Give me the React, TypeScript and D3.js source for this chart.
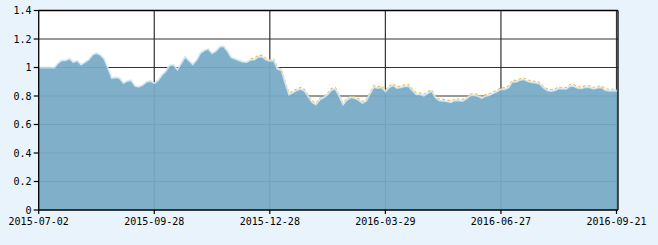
import React from "react";
import * as d3 from "d3";

const tickLabels = ["2015-07-02", "2015-09-28", "2015-12-28", "2016-03-29", "2016-06-27", "2016-09-21"];
const yTicks = [0, 0.2, 0.4, 0.6, 0.8, 1, 1.2, 1.4];

// unit net value, sampled evenly across the trading days
const unitNav = [
  1.0, 1.0, 1.0, 1.0, 0.998, 1.03, 1.05, 1.05, 1.062, 1.037,
  1.048, 1.02, 1.037, 1.055, 1.09, 1.1, 1.088, 1.06, 0.995, 0.925,
  0.93, 0.925, 0.89, 0.905, 0.91, 0.87, 0.865, 0.877, 0.9, 0.905,
  0.89, 0.91, 0.948, 0.975, 1.015, 1.02, 0.985, 1.03, 1.075, 1.048,
  1.022, 1.052, 1.102, 1.12, 1.13, 1.1, 1.115, 1.145, 1.15, 1.115,
  1.07, 1.06, 1.05, 1.04, 1.038, 1.053, 1.055, 1.075, 1.075, 1.055,
  1.045, 1.05, 0.99, 0.98, 0.89, 0.81, 0.825, 0.84, 0.85, 0.835,
  0.795, 0.755, 0.74, 0.775, 0.79, 0.81, 0.842, 0.85, 0.8, 0.74,
  0.772, 0.79, 0.785, 0.772, 0.752, 0.765, 0.815, 0.862, 0.856, 0.86,
  0.832, 0.86, 0.875, 0.855, 0.86, 0.868, 0.87, 0.84, 0.812, 0.812,
  0.802, 0.82, 0.835, 0.79, 0.768, 0.766, 0.762, 0.755, 0.77, 0.768,
  0.765, 0.78, 0.803, 0.806, 0.8, 0.785, 0.8, 0.806, 0.819, 0.832,
  0.847, 0.847, 0.86, 0.9, 0.9, 0.912, 0.916, 0.902, 0.896, 0.892,
  0.887, 0.86, 0.84, 0.834, 0.84, 0.853, 0.85, 0.85, 0.872, 0.867,
  0.855, 0.854, 0.862, 0.861, 0.85, 0.857, 0.861, 0.842, 0.837, 0.837,
  0.837,
];

// accumulated net value, visible from this sample index onwards
const accStart = 55;
const accNav = [
  1.063, 1.065, 1.085, 1.085, 1.065,
  1.055, 1.06, 1.0, 0.99, 0.9, 0.82, 0.835, 0.85, 0.86, 0.845,
  0.805, 0.765, 0.75, 0.785, 0.8, 0.82, 0.852, 0.86, 0.81, 0.75,
  0.782, 0.8, 0.795, 0.782, 0.762, 0.775, 0.825, 0.872, 0.866, 0.87,
  0.842, 0.87, 0.885, 0.865, 0.87, 0.878, 0.88, 0.85, 0.822, 0.822,
  0.812, 0.83, 0.845, 0.8, 0.778, 0.776, 0.772, 0.765, 0.78, 0.778,
  0.775, 0.79, 0.813, 0.816, 0.81, 0.795, 0.81, 0.816, 0.829, 0.842,
  0.857, 0.857, 0.87, 0.91, 0.91, 0.922, 0.926, 0.912, 0.906, 0.902,
  0.897, 0.87, 0.85, 0.844, 0.85, 0.863, 0.86, 0.86, 0.882, 0.877,
  0.865, 0.864, 0.872, 0.871, 0.86, 0.867, 0.871, 0.852, 0.847, 0.847,
  0.847,
];

const W = 658;
const H = 245;
const left = 38.7;
const right = 618;
const top = 10.5;
const bottom = 210;

export default function App() {
  const n = unitNav.length;
  const x = d3.scaleLinear().domain([0, n - 1]).range([left, 616.5]);
  const y = d3.scaleLinear().domain([0, 1.4]).range([bottom, top]);
  const tickIdx = tickLabels.map((_, i) => Math.round((i * (n - 1)) / (tickLabels.length - 1)));

  const pts: [number, number][] = unitNav.map((v, i) => [x(i), y(v)]);
  pts.push([right, y(unitNav[n - 1])]);
  const area = d3.area<[number, number]>().x((d) => d[0]).y0(bottom).y1((d) => d[1]);
  const topLine = d3.line<[number, number]>().x((d) => d[0]).y((d) => d[1]);
  const accLine = d3
    .line<number>()
    .x((_, i) => x(i + accStart))
    .y((d) => y(d));

  const font = "'DejaVu Sans Mono', monospace";

  return (
    <svg width={W} height={H} style={{ position: "absolute", left: 0, top: 0 }}>
      <rect x={0} y={0} width={W} height={H} fill="#e8f3fb" />
      <rect x={left} y={top} width={right - left} height={bottom - top} fill="#ffffff" />
      {yTicks.slice(1).map((t) => (
        <line key={"gy" + t} x1={left} x2={right} y1={y(t)} y2={y(t)} stroke="#333" strokeWidth={1.2} />
      ))}
      {tickIdx.slice(1).map((ti) => (
        <line key={"gx" + ti} x1={x(ti)} x2={x(ti)} y1={top} y2={bottom} stroke="#333" strokeWidth={1.2} />
      ))}
      <path d={accLine(accNav) || ""} fill="none" stroke="#f3b94a" strokeWidth={1.1} strokeDasharray="3,2" />
      <path d={area(pts) || ""} fill="#77aac6" fillOpacity={0.94} />
      <path d={topLine(pts) || ""} fill="none" stroke="#d3e8f4" strokeWidth={1.8} strokeOpacity={0.85} />
      <line x1={left} x2={left} y1={top} y2={bottom + 0.5} stroke="#000" strokeWidth={1.3} />
      <line x1={left} x2={right} y1={bottom} y2={bottom} stroke="#000" strokeWidth={1.3} />
      <line x1={left} x2={right} y1={top} y2={top} stroke="#000" strokeWidth={1.3} />
      <line x1={right} x2={right} y1={top} y2={bottom} stroke="#000" strokeWidth={1.3} />
      {yTicks.map((t) => (
        <g key={"yt" + t}>
          <line x1={left - 5} x2={left} y1={y(t)} y2={y(t)} stroke="#000" strokeWidth={1.2} />
          <text
            x={31.5}
            y={y(t)}
            dy="0.35em"
            textAnchor="end"
            fontFamily={font}
            fontSize={10}
            fill="#000"
          >
            {d3.format("")(+t.toFixed(1))}
          </text>
        </g>
      ))}
      {tickIdx.map((ti, i) => (
        <g key={"xt" + ti}>
          <line x1={x(ti)} x2={x(ti)} y1={bottom} y2={bottom + 4} stroke="#000" strokeWidth={1.2} />
          <text
            x={x(ti)}
            y={221.5}
            dy="0.35em"
            textAnchor="middle"
            fontFamily={font}
            fontSize={10}
            fill="#000"
          >
            {tickLabels[i]}
          </text>
        </g>
      ))}
    </svg>
  );
}
